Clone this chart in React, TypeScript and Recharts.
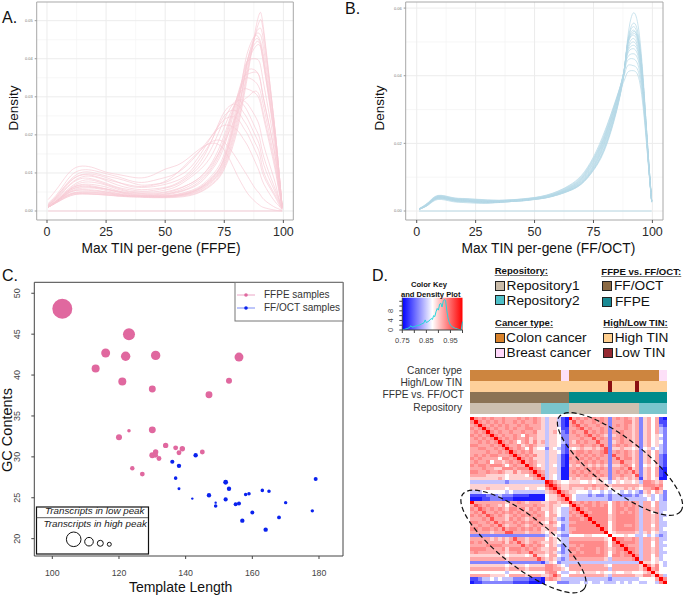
import { CartesianGrid, Line, LineChart, ReferenceArea, Scatter, ScatterChart, XAxis, YAxis, ZAxis } from "recharts";

const font = "'Liberation Sans', Arial, sans-serif";

// density curves, values are density x 1000
const ffpeX = [0.5, 5, 10, 15, 20, 25, 30, 35, 40, 45, 50, 55, 60, 65, 70, 75, 80, 83, 85, 88, 90, 91.8, 95.8, 97.9, 99.5];
const ffpeCurves = [
  [1, 2.5, 4, 4.5, 4.4, 4.2, 3.9, 3.7, 3.6, 3.5, 3.5, 3.6, 4, 5, 7, 11, 20, 29, 36, 47, 52, 47, 25, 12, 1],
  [1, 2.6, 4.1, 4.5, 4.4, 4.2, 4, 3.8, 3.7, 3.6, 3.6, 3.8, 4.2, 5.2, 7.3, 11.5, 21, 30, 37, 46, 50, 46, 25, 12, 1],
  [1, 2.6, 4.3, 4.6, 4.5, 4.3, 4, 3.9, 3.8, 3.7, 3.7, 3.9, 4.4, 5.5, 7.7, 12, 22, 31, 38, 46, 48, 44, 25, 12, 1],
  [1, 2.8, 4.5, 5, 4.9, 4.6, 4.2, 3.9, 3.8, 3.7, 3.7, 4, 4.5, 5.7, 8, 12.5, 23, 33, 40, 46, 46.5, 42, 24, 12, 1],
  [1, 2.8, 4.4, 4.8, 4.7, 4.5, 4.2, 4, 3.9, 3.8, 3.8, 4.1, 4.7, 6, 8.5, 13.5, 25, 36, 42, 46, 45, 40, 23, 11, 1],
  [1, 3, 5, 5.6, 5.5, 5, 4.3, 4, 3.8, 3.7, 3.8, 4.1, 4.7, 6, 8.2, 13, 24, 33, 40, 45, 44.5, 39, 22, 11, 1],
  [1, 3, 4.6, 5, 5, 4.8, 4.4, 4, 3.9, 3.9, 4, 4.2, 4.8, 6.2, 8.8, 14, 26, 35, 40, 44, 44, 38, 22, 11, 1],
  [1.2, 3, 5.2, 6, 6, 5.4, 4.6, 4, 3.9, 3.9, 3.9, 4.3, 5, 6.3, 9, 14, 25, 33, 39, 43, 43.5, 38, 21, 10, 1],
  [1, 3, 5.5, 6.3, 6.2, 5.7, 5, 4.3, 4.1, 4, 4.2, 4.8, 5.8, 7.5, 11, 17, 28, 34, 37, 37, 35, 29, 17, 8, 1],
  [1, 3.2, 5.8, 6.8, 6.5, 5.8, 5, 4.5, 4.2, 4.1, 4.4, 5, 6, 8, 11.5, 18, 29, 35, 36, 36.5, 35, 29, 17, 8, 1],
  [1.2, 3.2, 5.8, 7, 6.9, 6.3, 5.3, 4.6, 4.4, 4.3, 4.5, 5.2, 6.5, 8.5, 12, 19, 29, 34, 35, 34, 32, 27, 15, 7, 1],
  [1.2, 3.3, 6, 7.5, 7.5, 6.8, 5.7, 5, 4.6, 4.5, 4.8, 5.6, 7, 9, 13, 20, 29, 32, 32, 31, 29, 24, 13, 6, 1],
  [1, 3, 5.5, 6.5, 6.3, 5.8, 5.2, 4.8, 4.7, 4.7, 5, 5.8, 7, 9, 12.5, 18, 25, 29, 30, 31.5, 30, 25, 14, 6.5, 1],
  [1.3, 3.6, 6.3, 8, 8, 7, 6, 5.2, 5, 5, 5.5, 6.5, 8.5, 11, 15, 22, 28.5, 29, 28, 25, 22, 17, 9, 4, 0.8],
  [1.5, 3.8, 7, 8.6, 8.3, 7.3, 6.2, 5.6, 5.2, 5.4, 6, 7, 9, 12, 17, 24, 29, 28, 26, 22, 19, 14, 7, 3.5, 0.6],
  [1.5, 4, 7.2, 9, 9, 8, 6.8, 6, 5.6, 5.8, 6.2, 7.3, 9.5, 13, 19, 26, 28, 26, 24, 20, 17, 12, 6, 3, 0.6],
  [1.6, 4.2, 7.8, 9.6, 9.6, 8.8, 7.6, 6.5, 6.2, 6.4, 7, 8, 10, 14, 19, 25, 26.3, 24, 22, 18, 15, 10, 5, 2.5, 0.5],
  [1.8, 4.6, 8.3, 10.2, 10, 9.2, 8.5, 7.6, 6.8, 7, 7.5, 9, 11, 15, 20, 24, 24.5, 22, 20, 16, 13, 9, 4.5, 2, 0.5],
  [2, 5, 9.2, 10.8, 10.6, 9.8, 9, 8, 7.5, 8, 8.8, 10, 12.5, 16, 20, 22.5, 21.5, 19, 17, 13, 10, 7, 3, 1.5, 0.3],
  [3, 6.5, 10.5, 11.8, 11.3, 10.2, 9.6, 9, 8.7, 9.5, 11, 12, 14, 16.5, 17.8, 16, 10, 6.5, 4.5, 2.5, 1.5, 0.9, 0.3, 0.1, 0],
  [1.5, 4.5, 8, 9.5, 9.2, 8.3, 7.5, 6.8, 6.4, 6.8, 7.8, 10, 13, 16, 18.3, 18, 14, 11, 9, 6, 4.5, 3, 1.2, 0.6, 0.1],
  [1, 2.9, 5, 5.5, 5.3, 5, 4.6, 4.2, 4, 3.9, 4, 4.4, 5.2, 6.6, 9.5, 15, 27, 36, 39.5, 40, 39, 33, 19, 9, 1],
];

const ffocX = [1, 5, 9, 15, 20, 25, 30, 35, 40, 45, 50, 55, 60, 65, 70, 75, 80, 85, 88, 89.5, 91.8, 94.5, 96.8, 98.5, 99.7];
const ffocCurves = [
  [0.5, 1.8, 3.4, 2.8, 2.5, 2.3, 2.3, 2.5, 2.8, 3, 3.4, 3.9, 4.8, 6, 8, 12, 18.5, 30, 41, 51, 58.5, 52, 32, 14, 3],
  [0.5, 1.9, 3.6, 3, 2.7, 2.5, 2.4, 2.6, 2.8, 3, 3.4, 3.9, 4.8, 6.1, 8.2, 12.3, 19, 30.5, 41, 50, 55.5, 50, 31, 14, 3],
  [0.4, 2, 3.8, 3.2, 2.9, 2.6, 2.5, 2.6, 2.8, 3.1, 3.5, 4, 4.9, 6.2, 8.3, 12.5, 19.5, 31, 41.5, 50, 54.5, 49, 31, 14, 3],
  [0.5, 2, 3.7, 3.1, 2.8, 2.7, 2.5, 2.7, 2.9, 3.1, 3.5, 4, 5, 6.3, 8.5, 12.8, 20, 31, 41, 49.5, 53.5, 48, 30, 13, 3],
  [0.5, 2.1, 4, 3.5, 3.1, 2.6, 2.4, 2.6, 2.8, 3.1, 3.5, 4, 4.9, 6.1, 8.1, 12.2, 19, 30.5, 41, 49.5, 53, 49, 31, 14, 3],
  [0.6, 2.2, 4.1, 3.6, 3.3, 2.9, 2.7, 2.7, 2.9, 3.2, 3.6, 4.1, 5, 6.3, 8.6, 13, 20.5, 31.5, 41.5, 49, 52.5, 48, 30, 13, 2.8],
  [0.5, 2, 3.9, 3.3, 3, 2.8, 2.7, 2.8, 3, 3.2, 3.6, 4.1, 5.1, 6.5, 8.8, 13.3, 20.8, 32, 41.5, 49, 52, 47, 29.5, 13, 2.7],
  [0.6, 2.1, 3.8, 3.2, 2.9, 2.9, 2.8, 2.8, 3, 3.2, 3.6, 4.2, 5.2, 6.6, 9, 13.6, 21.2, 32, 41.5, 48, 51, 46, 29, 13, 2.8],
  [0.6, 2.3, 4.2, 3.5, 3.2, 3, 2.8, 2.8, 3, 3.3, 3.7, 4.2, 5.2, 6.7, 9.2, 14, 21.5, 32.5, 41.5, 47.5, 50, 45.5, 29, 13, 2.8],
  [0.5, 2.2, 4, 3.4, 3.1, 2.9, 2.9, 2.9, 3.1, 3.3, 3.7, 4.3, 5.3, 6.8, 9.4, 14.3, 22, 33, 41.5, 47, 49, 45, 29, 13, 2.8],
  [0.5, 2.3, 4.3, 3.6, 3.3, 3.1, 2.9, 3, 3.1, 3.4, 3.8, 4.3, 5.4, 7, 9.6, 14.6, 22.3, 33, 41.5, 46.5, 48, 44, 28.5, 13, 2.8],
  [0.6, 2.4, 4.2, 3.7, 3.4, 3.2, 3, 3, 3.2, 3.4, 3.8, 4.4, 5.5, 7.1, 9.8, 15, 22.6, 33.5, 41.5, 45.5, 46.5, 43, 28, 12.5, 2.7],
  [0.6, 2.3, 4.4, 3.8, 3.5, 3.3, 3.1, 3.1, 3.2, 3.5, 3.9, 4.5, 5.6, 7.3, 10, 15.3, 23, 33.5, 41, 44.5, 45, 41.5, 27.5, 12.5, 2.7],
  [0.6, 2.5, 4.5, 3.9, 3.6, 3.4, 3.2, 3.1, 3.3, 3.5, 3.9, 4.6, 5.8, 7.5, 10.3, 15.6, 23.5, 34, 40, 43, 43, 40, 26.5, 12, 2.6],
  [0.7, 2.6, 4.6, 4, 3.7, 3.5, 3.3, 3.2, 3.3, 3.6, 4, 4.7, 5.9, 7.7, 10.6, 16, 24, 33.5, 38.5, 41, 41.5, 38.5, 25.5, 12, 2.6],
];

// panel C
const ffpeLength = [103, 123, 116, 122, 131, 156, 113, 121, 153, 130, 147, 130, 123, 120, 134, 137, 139, 131, 138, 145, 130, 131, 132, 124, 127];
const ffpeGc = [48.1, 45, 42.7, 42.3, 42.4, 42.2, 40.8, 39.2, 39.3, 38.3, 37.6, 33.3, 33.2, 32.4, 31.4, 31.1, 31, 30.6, 30.5, 30.6, 30.2, 30.2, 29.8, 28.6, 27.9];
const ffpePeakRatio = [100, 36, 20, 22, 22, 20, 16, 16, 9, 12, 12, 12, 3.2, 9, 7.3, 6, 7.3, 7.3, 6, 6, 9, 6, 6, 5, 5.8];
const ffocLength = [143, 136, 138, 137, 138, 152, 153, 147, 152, 142, 149, 149, 155, 156, 158, 159, 163, 165, 170, 178, 179, 160, 157, 168, 164];
const ffocGc = [30.2, 29.4, 28.9, 27.4, 26.1, 26.9, 26.1, 25.3, 24.8, 24.9, 24.4, 24, 24.2, 24.3, 25.4, 25.5, 25.9, 25.8, 24.4, 23.4, 27.3, 23.2, 22.2, 22.6, 21.1];
const ffocPeakRatio = [4.8, 4.4, 4.8, 3.2, 2.2, 5.8, 4.8, 4.8, 4.4, 1.4, 1.4, 3.2, 4, 4, 3.2, 3.2, 3.2, 3.2, 2.9, 2.9, 4, 4, 4.8, 3.6, 4.8];

// panel D, color key density
const keyX = [0.75, 0.76, 0.77, 0.78, 0.785, 0.79, 0.8, 0.81, 0.82, 0.83, 0.84, 0.845, 0.85, 0.86, 0.87, 0.875, 0.88, 0.885, 0.89, 0.895, 0.9, 0.905, 0.91, 0.915, 0.92, 0.925, 0.93, 0.935, 0.94, 0.945, 0.95, 0.96, 0.97, 0.98, 0.99, 0.995, 1];
const keyDensity = [0.1, 0.3, 0.6, 1, 1.8, 1.2, 1.4, 1.8, 2, 2.5, 3, 4.2, 3.1, 3.7, 4.8, 4.4, 6, 5.6, 7.6, 9, 8.3, 10.8, 11.2, 9.6, 12, 12.8, 12.2, 8, 5, 3.2, 2, 1.2, 0.7, 0.4, 0.1, 0.1, 3.5];

// upper triangle of the correlation matrix, one row per sample, level 0 (blue) to 9 (red)
const corrRows = [
  "9767676676 6676767653 5531096767 6767626767 6562564610",
  "976767676 6767667653 5531068676 6767626667 7562564611",
  "97676767 6676766653 5531067867 6676626767 6562564621",
  "9767667 6766776653 5541166786 7667626667 6562564632",
  "976766 7667667553 5642167668 6767626676 6562564632",
  "97676 6764766553 5542266767 8676525676 6562564542",
  "9767 6766756553 5542266676 6867626676 6562564532",
  "976 7646757563 5543265767 6686625676 6562564542",
  "97 6675676553 5542166676 6768626767 6562564532",
  "9 7676475442 5432154565 5656825565 5452453432",
  "9767675553 5542166776 7667826767 6562564632",
  "976767553 5531066767 6767628667 6562564621",
  "97675553 5531076676 7676626867 7562564621",
  "9676553 5531066767 6767626686 6562564621",
  "976453 5431056566 5656525567 6462454521",
  "97653 5530066767 6767626676 8562564610",
  "9763 5530067676 7676626767 6862564610",
  "973 5430066767 6767626676 6582564610",
  "93 5430056566 6565526565 6561564500",
  "9 8654455544 5455434545 5453776564",
  "9865566666 6766656666 6665777674",
  "975565556 5656545556 5654667864",
  "97655444 3443434434 3432564652",
  "9764333 2322323322 2323453432",
  "964333 3333323333 3333343432",
  "97676 7676646767 6763664633",
  "9767 7676746767 6763664633",
  "976 7777746776 7763665633",
  "97 6777746767 6763664634",
  "9 7777756777 7763665633",
  "9777756777 7763665634",
  "977746777 7763665633",
  "97746776 6763664633",
  "9746777 7763665634",
  "945666 6653564533",
  "94445 4433434323",
  "9776 6763665633",
  "977 7763664634",
  "97 6663664633",
  "9 7763665634",
  "9763665633",
  "973664634",
  "93664534",
  "9554543",
  "975743",
  "96744",
  "9544",
  "963",
  "97",
  "9",
];
const levelColors = ["#1a1aff", "#4a4aff", "#8484ff", "#c4c4ff", "#ffffff", "#ffd2d2", "#ffa8a8", "#ff8a8a", "#ff5252", "#ff0000"];

const cancerType: [string, number][] = [["#cd853f", 23], ["#fde0f8", 2], ["#cd853f", 23], ["#fde0f8", 2]];
const tinLevel: [string, number][] = [["#fed09a", 35], ["#8b0f12", 1], ["#fed09a", 6], ["#8b0f12", 1], ["#fed09a", 7]];
const tissue: [string, number][] = [["#8b7355", 25], ["#008b8b", 25]];
const repository: [string, number][] = [["#cdc0b0", 18], ["#7ac5cd", 7], ["#cdc0b0", 18], ["#7ac5cd", 7]];
const annotationRows = [cancerType, tinLevel, tissue, repository];
const annotationLabels = ["Cancer type", "High/Low TIN", "FFPE vs. FF/OCT", "Repository"];

const ffpeData = ffpeX.map((x, i) => {
  const row: any = { x, base: 0 };
  ffpeCurves.forEach((c, k) => { row["c" + k] = c[i]; });
  return row;
});
const ffocData = ffocX.map((x, i) => {
  const row: any = { x, base: 0 };
  ffocCurves.forEach((c, k) => { row["c" + k] = c[i]; });
  return row;
});
const keyData = keyX.map((x, i) => ({ x, y: keyDensity[i] }));
const ffpePoints = ffpeLength.map((x, i) => ({ x, y: ffpeGc[i], z: ffpePeakRatio[i] }));
const ffocPoints = ffocLength.map((x, i) => ({ x, y: ffocGc[i], z: ffocPeakRatio[i] }));

const n = corrRows.length;
const upper = corrRows.map(r => r.replace(/ /g, ""));
const level = (i: number, j: number) => {
  const a = Math.min(i, j), b = Math.max(i, j);
  return Number(upper[a][b - a] ?? 5);
};
const heatCells: any[] = [];
for (let i = 0; i < n; i++) {
  for (let j = 0; j < n; j++) {
    heatCells.push({ x: j + 0.5, y: i + 0.5, fill: levelColors[level(i, j)] });
  }
}
const annotationCells: any[] = [];
annotationRows.forEach((runs, r) => {
  let col = 0;
  runs.forEach(([fill, len]) => {
    for (let k = 0; k < len; k++) {
      annotationCells.push({ x: col + 0.5, y: r + 0.5, fill });
      col++;
    }
  });
});

const HEAT_W = 197, HEAT_H = 167, ANN_H = 44;

const heatShape = (p: any) => (
  <rect x={p.cx - HEAT_W / 100} y={p.cy - HEAT_H / 100} width={HEAT_W / 50 + 0.6} height={HEAT_H / 50 + 0.6} fill={p.payload.fill} shapeRendering="crispEdges" />
);
const annShape = (p: any) => (
  <rect x={p.cx - HEAT_W / 100} y={p.cy - ANN_H / 8} width={HEAT_W / 50 + 0.6} height={ANN_H / 4} fill={p.payload.fill} shapeRendering="crispEdges" />
);

function DensityPanel({ data, curves, color, left, plotLeft, width, xDomain, yDomain, yMajor, yMinor, label, labelX }: any) {
  return (
    <div style={{ position: "absolute", left, top: 0 }}>
      <LineChart width={width} height={256} data={data} margin={{ top: 2, right: 1, bottom: 0, left: 0 }} style={{ fontFamily: font }}>
        <CartesianGrid stroke="#f3f3f3" strokeWidth={0.7} horizontalValues={yMinor} verticalValues={[12.5, 37.5, 62.5, 87.5]} />
        <CartesianGrid stroke="#ececec" strokeWidth={1} horizontalValues={yMajor} verticalValues={[0, 25, 50, 75, 100]} />
        <XAxis type="number" dataKey="x" domain={xDomain} ticks={[0, 25, 50, 75, 100]} interval={0} height={36} axisLine={false} tickSize={3} tick={{ fontSize: 12.5, fill: "#2b2b2b", dy: 2 }} tickLine={{ stroke: "#555" }} allowDataOverflow
          label={{ value: label, position: "insideBottom", offset: 3, fontSize: 13.8, fill: "#111", dx: labelX }} />
        <YAxis type="number" domain={yDomain} ticks={yMajor} interval={0} width={plotLeft} axisLine={false} tickSize={2} tick={{ fontSize: 4, fill: "#777" }} tickLine={{ stroke: "#999" }} tickFormatter={(v: number) => (v / 1000).toFixed(2)} allowDataOverflow />
        <ReferenceArea x1={xDomain[0]} x2={xDomain[1]} y1={yDomain[0]} y2={yDomain[1]} fill="none" stroke="#a8a8a8" strokeWidth={1} fillOpacity={0} />
        <Line dataKey="base" stroke={color} strokeWidth={1.4} strokeOpacity={0.6} dot={false} isAnimationActive={false} />
        {curves.map((_: any, k: number) => (
          <Line key={k} type="natural" dataKey={"c" + k} stroke={color} strokeWidth={0.7} dot={false} isAnimationActive={false} />
        ))}
      </LineChart>
    </div>
  );
}

const RotatedTick = ({ x, y, payload, fontSize, fill, dx }: any) => (
  <text x={x + dx} y={y} transform={`rotate(-90 ${x + dx} ${y})`} textAnchor="middle" fontSize={fontSize} fill={fill} fontFamily={font}>
    {payload.value}
  </text>
);

const Txt = ({ x, y, size, bold, italic, color, right, underline, children, rotate }: any) => (
  <div style={{
    position: "absolute", left: right ? undefined : x, right: right ? 685 - x : undefined, top: y, lineHeight: 0, whiteSpace: "nowrap",
    fontFamily: font, fontSize: size, fontWeight: bold ? 700 : 400, fontStyle: italic ? "italic" : "normal", color: color ?? "#111",
    textDecoration: underline ? "underline" : "none", textDecorationColor: "#777", transform: rotate ? "translate(-50%,0) rotate(-90deg)" : undefined,
  }}>{children}</div>
);

const Swatch = ({ x, y, fill }: any) => (
  <div style={{ position: "absolute", left: x, top: y, width: 8, height: 8, background: fill, border: "1px solid #222" }} />
);

export default function App() {
  return (
    <div style={{ position: "absolute", left: 0, top: 0, width: 685, height: 596, background: "#fff", overflow: "hidden" }}>
      <DensityPanel data={ffpeData} curves={ffpeCurves} color="#f8ccd6" left={0} plotLeft={36.7} width={294.3} xDomain={[-4.36, 104.2]} yDomain={[-2.36, 54.9]}
        yMajor={[0, 10, 20, 30, 40, 50]} yMinor={[5, 15, 25, 35, 45]} label="Max TIN per-gene (FFPE)" labelX={-4} />
      <DensityPanel data={ffocData} curves={ffocCurves} color="#b4d9e6" left={360} plotLeft={45.7} width={304} xDomain={[-4.67, 104.5]} yDomain={[-2.66, 61.8]}
        yMajor={[0, 20, 40, 60]} yMinor={[10, 30, 50]} label="Max TIN per-gene (FF/OCT)" labelX={14} />

      <Txt x={2} y={18} size={16}>A.</Txt>
      <Txt x={345} y={9} size={16}>B.</Txt>
      <Txt x={2} y={276} size={16}>C.</Txt>
      <Txt x={372} y={276} size={16}>D.</Txt>
      <Txt x={14} y={108} size={13.5} rotate>Density</Txt>
      <Txt x={380} y={108} size={13.5} rotate>Density</Txt>

      <div style={{ position: "absolute", left: 0, top: 260 }}>
        <ScatterChart width={344} height={336} margin={{ top: 22.3, right: 1, bottom: 0, left: 0 }} style={{ fontFamily: font }}>
          <XAxis type="number" dataKey="x" domain={[94.6, 187.2]} ticks={[100, 120, 140, 160, 180]} interval={0} height={40} axisLine={false} tickSize={3} tick={{ fontSize: 8.8, fill: "#444", dy: 9 }} tickLine={{ stroke: "#444" }}
            label={{ value: "Template Length", position: "insideBottom", offset: 4, fontSize: 14, fill: "#111", dx: -8 }} allowDataOverflow />
          <YAxis type="number" dataKey="y" domain={[17.88, 51.34]} ticks={[20, 25, 30, 35, 40, 45, 50]} interval={0} width={34.3} axisLine={false} tickSize={3} tickLine={{ stroke: "#444" }}
            tick={<RotatedTick fontSize={9} fill="#444" dx={-9} />} allowDataOverflow />
          <ZAxis type="number" dataKey="z" domain={[0, 100]} range={[0, 314]} />
          <ReferenceArea x1={94.6} x2={187.2} y1={17.88} y2={51.34} fill="none" fillOpacity={0} stroke="#444" strokeWidth={1} />
          <Scatter data={ffpePoints} fill="#e0689f" isAnimationActive={false} />
          <Scatter data={ffocPoints} fill="#0a22ee" isAnimationActive={false} />
        </ScatterChart>
      </div>
      <Txt x={7} y={430} size={14.5} rotate>GC Contents</Txt>

      <svg width={685} height={596} style={{ position: "absolute", left: 0, top: 0 }}>
        <rect x={235} y={282.5} width={108} height={38.5} fill="#fff" stroke="#777" strokeWidth={1} />
        <line x1={237} x2={255} y1={295} y2={295} stroke="#eba6c6" strokeWidth={1} />
        <circle cx={246} cy={295} r={1.8} fill="#e0689f" />
        <line x1={237} x2={255} y1={308} y2={308} stroke="#7d8df5" strokeWidth={1} />
        <circle cx={246} cy={308} r={1.8} fill="#0a22ee" />
        <rect x={36.5} y={507} width={112} height={47} fill="#fff" stroke="#111" strokeWidth={1.2} />
        <line x1={36.5} x2={148} y1={517.7} y2={517.7} stroke="#333" strokeWidth={0.8} />
        <circle cx={73.7} cy={539.3} r={7.3} fill="none" stroke="#111" strokeWidth={1} />
        <circle cx={89} cy={541.7} r={4.3} fill="none" stroke="#111" strokeWidth={1} />
        <circle cx={100.3} cy={543.3} r={3} fill="none" stroke="#111" strokeWidth={1} />
        <circle cx={109.3} cy={544.3} r={2} fill="none" stroke="#111" strokeWidth={1} />
      </svg>
      <Txt x={264} y={295} size={10} color="#333">FFPE samples</Txt>
      <Txt x={264} y={308} size={10} color="#333">FF/OCT samples</Txt>
      <Txt x={45} y={511} size={9.8} italic color="#222">Transcripts in low peak</Txt>
      <Txt x={43.5} y={523.5} size={9.8} italic color="#222">Transcripts in high peak</Txt>

      {/* colour key */}
      <div style={{ position: "absolute", left: 380, top: 290 }}>
        <LineChart width={90} height={60} data={keyData} margin={{ top: 7.7, right: 7.5, bottom: 0, left: 0 }} style={{ fontFamily: font }}>
          <defs>
            <linearGradient id="keyGrad" x1="0" x2="1" y1="0" y2="0">
              <stop offset="0" stopColor="#0000ff" />
              <stop offset="0.5" stopColor="#ffffff" />
              <stop offset="1" stopColor="#ff0000" />
            </linearGradient>
          </defs>
          <XAxis type="number" dataKey="x" domain={[0.75, 1]} ticks={[0.75, 0.8, 0.85, 0.9, 0.95, 1]} interval={0} height={20} tickSize={3} axisLine={{ stroke: "#444" }} tickLine={{ stroke: "#444" }}
            tick={(p: any) => [0.75, 0.85, 0.95].includes(p.payload.value) ? <text x={p.x} y={p.y + 8} textAnchor="middle" fontSize={7.5} fill="#444" fontFamily={font}>{p.payload.value.toFixed(2)}</text> : <g />} />
          <YAxis type="number" domain={[0, 13.5]} ticks={[0, 2, 4, 6, 8, 10, 12]} interval={0} width={22.3} tickSize={3} axisLine={{ stroke: "#444" }} tickLine={{ stroke: "#444" }}
            tick={(p: any) => [0, 4, 8].includes(p.payload.value) ? <RotatedTick x={p.x} y={p.y} payload={p.payload} fontSize={7.5} fill="#444" dx={-4} /> : <g />} />
          <ReferenceArea x1={0.75} x2={1} y1={0} y2={13.5} fill="url(#keyGrad)" fillOpacity={1} stroke="none" />
          <Line dataKey="y" stroke="#25d6dc" strokeWidth={1} dot={false} isAnimationActive={false} />
        </LineChart>
      </div>
      <Txt x={411} y={285} size={7.6} bold>Color Key</Txt>
      <Txt x={401} y={295} size={7.6} bold>and Density Plot</Txt>

      {/* group legends */}
      <Txt x={494.7} y={271} size={9.6} bold underline>Repository:</Txt>
      <Swatch x={495} y={281} fill="#c9bba8" />
      <Txt x={506.5} y={286} size={13.7}>Repository1</Txt>
      <Swatch x={495} y={295} fill="#4fc0c8" />
      <Txt x={506.5} y={300.5} size={13.7}>Repository2</Txt>
      <Txt x={601.3} y={272} size={9.6} bold underline>FFPE vs. FF/OCT:</Txt>
      <Swatch x={601.5} y={281} fill="#8b6a44" />
      <Txt x={614} y={286} size={13.7}>FF/OCT</Txt>
      <Swatch x={601.5} y={296.5} fill="#1a8a94" />
      <Txt x={615} y={301.5} size={13.7}>FFPE</Txt>
      <Txt x={495} y={323} size={9.6} bold underline>Cancer type:</Txt>
      <Swatch x={495} y={332.5} fill="#d9822b" />
      <Txt x={506} y={337.5} size={13.7}>Colon cancer</Txt>
      <Swatch x={495} y={347.5} fill="#ffd8fb" />
      <Txt x={506.5} y={352.5} size={13.7}>Breast cancer</Txt>
      <Txt x={603.3} y={323} size={9.6} bold underline>High/Low TIN:</Txt>
      <Swatch x={603} y={332.5} fill="#ffcf8f" />
      <Txt x={614.7} y={337.5} size={13.7}>High TIN</Txt>
      <Swatch x={603} y={347.5} fill="#962a32" />
      <Txt x={614.7} y={352.5} size={13.7}>Low TIN</Txt>

      {annotationLabels.map((t, i) => (
        <Txt key={t} x={[462, 462, 464, 462][i]} y={[371, 382.7, 395, 408][i]} size={10.2} right color="#333">{t}</Txt>
      ))}

      {/* annotation rows and heatmap */}
      <div style={{ position: "absolute", left: 470.3, top: 370 }}>
        <ScatterChart width={HEAT_W} height={ANN_H} margin={{ top: 0, right: 0, bottom: 0, left: 0 }}>
          <XAxis type="number" dataKey="x" domain={[0, 50]} hide />
          <YAxis type="number" dataKey="y" domain={[0, 4]} reversed hide />
          <Scatter data={annotationCells} shape={annShape} isAnimationActive={false} />
        </ScatterChart>
      </div>
      <div style={{ position: "absolute", left: 470.3, top: 417 }}>
        <ScatterChart width={HEAT_W} height={HEAT_H} margin={{ top: 0, right: 0, bottom: 0, left: 0 }}>
          <XAxis type="number" dataKey="x" domain={[0, 50]} hide />
          <YAxis type="number" dataKey="y" domain={[0, 50]} reversed hide />
          <Scatter data={heatCells} shape={heatShape} isAnimationActive={false} />
        </ScatterChart>
      </div>

      <svg width={685} height={596} style={{ position: "absolute", left: 0, top: 0 }}>
        <ellipse cx={620} cy={464} rx={77} ry={25} transform="rotate(38 620 464)" fill="none" stroke="#111" strokeWidth={1.2} strokeDasharray="5 3" />
        <ellipse cx={523.5} cy={541.5} rx={77} ry={25} transform="rotate(38 523.5 541.5)" fill="none" stroke="#111" strokeWidth={1.2} strokeDasharray="5 3" />
      </svg>
    </div>
  );
}
